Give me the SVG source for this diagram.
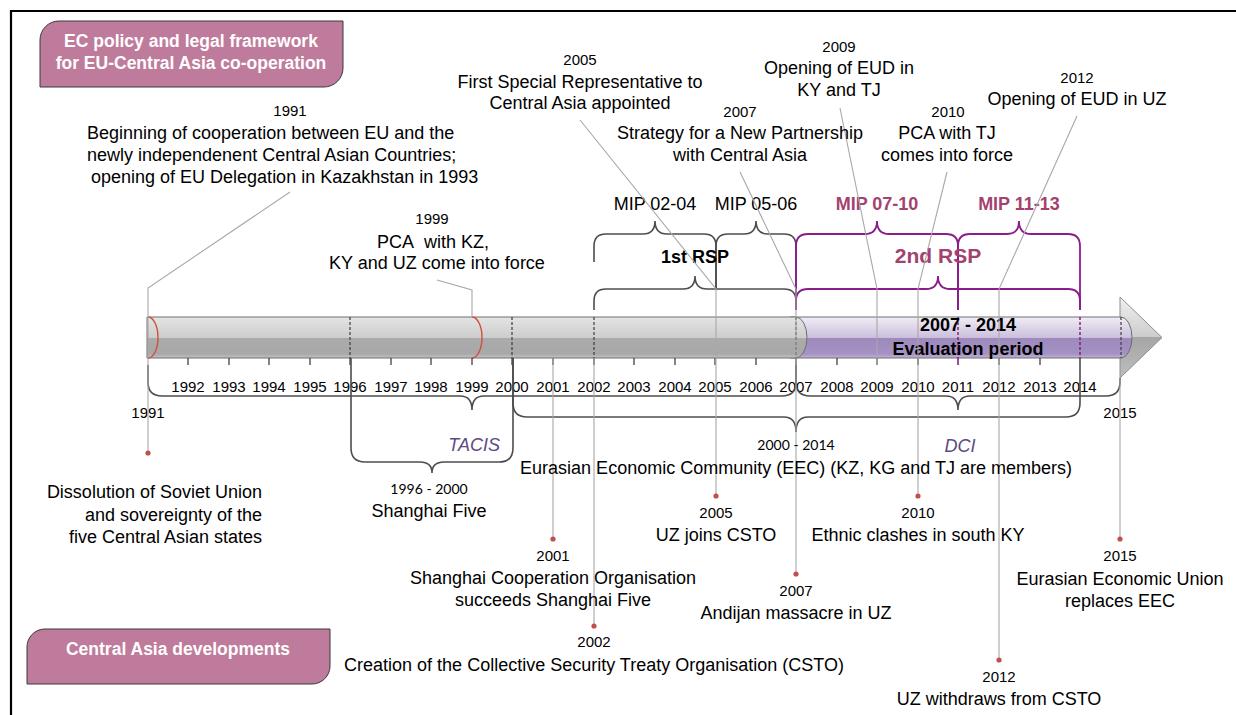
<svg xmlns="http://www.w3.org/2000/svg" width="1236" height="715" viewBox="0 0 1236 715">
<defs>
<linearGradient id="gGrey" x1="0" y1="0" x2="0" y2="1">
<stop offset="0" stop-color="#e4e4e4"/><stop offset="0.5" stop-color="#cdcdcd"/><stop offset="0.5" stop-color="#ababab"/><stop offset="0.9" stop-color="#a8a8a8"/><stop offset="1" stop-color="#c4c4c4"/>
</linearGradient>
<linearGradient id="gPurple" x1="0" y1="0" x2="0" y2="1">
<stop offset="0" stop-color="#f1edf6"/><stop offset="0.5" stop-color="#cbc0dc"/><stop offset="0.5" stop-color="#9d89bb"/><stop offset="0.9" stop-color="#a592c4"/><stop offset="1" stop-color="#c2b4d8"/>
</linearGradient>
<linearGradient id="gArrow" x1="0" y1="0" x2="0" y2="1">
<stop offset="0" stop-color="#f0f0f0"/><stop offset="0.5" stop-color="#cccccc"/><stop offset="0.5" stop-color="#a6a6a6"/><stop offset="1" stop-color="#bdbdbd"/>
</linearGradient>
</defs>
<style>
text{font-family:"Liberation Sans",Arial,sans-serif;fill:#000}
.ev{font-size:18px;text-anchor:middle}
.yr{font-size:15px;text-anchor:middle}
.cal{font-family:Lato,"Liberation Sans",sans-serif;font-size:14px;text-anchor:middle}
.hdr{font-size:17.5px;font-weight:bold;fill:#ffffff;text-anchor:middle}
.box{fill:#bf7b9b;stroke:#3a3a3a;stroke-width:1}
.brace{fill:none;stroke:#4d4d4d;stroke-width:1.6}
.pbrace{fill:none;stroke:#8b1c8b;stroke-width:1.8}
.conn{fill:none;stroke:#a8a8a8;stroke-width:1.1}
.dot{fill:#c0504d}
.dash{stroke:#3c3c3c;stroke-width:1.2;stroke-dasharray:3 2}
.pdash{stroke:#7a1a7a;stroke-width:1.4;stroke-dasharray:3 2}
.tick{stroke:#333;stroke-width:1.2}
.mip{font-size:18px;text-anchor:middle}
.pmip{font-size:18px;font-weight:bold;fill:#a3426f;text-anchor:middle}
.per{font-size:18px;font-style:italic;fill:#5c4a82}
</style>
<rect width="1236" height="715" fill="#ffffff"/>
<path d="M11,715 V11 H1236" fill="none" stroke="#000" stroke-width="2.2"/>

<g id="header-ec">
<path class="box" d="M40,87 V40 A19,19 0 0 1 59,21 H343 V68 A19,19 0 0 1 324,87 Z"/>
<text class="hdr" x="191" y="47">EC policy and legal framework</text>
<text class="hdr" x="191" y="69">for EU-Central Asia co-operation</text>
</g>
<g id="header-ca">
<path class="box" d="M27,684 V647 A18,18 0 0 1 45,629 H330 V666 A18,18 0 0 1 312,684 Z"/>
<text class="hdr" x="178" y="655">Central Asia developments</text>
</g>

<g id="timeline">
<polygon points="1120,297 1162,337.5 1120,378" fill="url(#gArrow)" stroke="#8c8c8c" stroke-width="1"/>
<path d="M790,317 H1121 A11,20.5 0 0 1 1121,358 H790 Z" fill="url(#gPurple)" stroke="#6e6e6e" stroke-width="1"/>
<path d="M147,317 H796 A11,20.5 0 0 1 796,358 H147 Z" fill="url(#gGrey)" stroke="#6e6e6e" stroke-width="1"/>
<path d="M148,317 A10,20.5 0 0 1 148,358" fill="none" stroke="#d0503c" stroke-width="1.4"/>
<path d="M472,317 A10,20.5 0 0 1 472,358" fill="none" stroke="#d0503c" stroke-width="1.4"/>
<line class="dash" x1="350" y1="317" x2="350" y2="358"/>
<line class="dash" x1="512" y1="317" x2="512" y2="358"/>
<line class="dash" x1="594" y1="317" x2="594" y2="358"/>
<line class="dash" x1="796" y1="317" x2="796" y2="358"/>
<line class="pdash" x1="958" y1="317" x2="958" y2="358"/>
<line class="pdash" x1="1080" y1="317" x2="1080" y2="358"/>
<line class="dash" x1="1121" y1="317" x2="1121" y2="358"/>
<text x="968" y="331" style="font-size:18px;font-weight:bold;text-anchor:middle">2007 - 2014</text>
<text x="968" y="355" style="font-size:18px;font-weight:bold;text-anchor:middle">Evaluation period</text>
<g class="tick">
<line x1="188" y1="358" x2="188" y2="365"/><line x1="229" y1="358" x2="229" y2="365"/><line x1="269" y1="358" x2="269" y2="365"/><line x1="310" y1="358" x2="310" y2="365"/><line x1="350" y1="358" x2="350" y2="365"/><line x1="391" y1="358" x2="391" y2="365"/><line x1="431" y1="358" x2="431" y2="365"/><line x1="472" y1="358" x2="472" y2="365"/><line x1="512" y1="358" x2="512" y2="365"/><line x1="553" y1="358" x2="553" y2="365"/><line x1="594" y1="358" x2="594" y2="365"/><line x1="634" y1="358" x2="634" y2="365"/><line x1="675" y1="358" x2="675" y2="365"/><line x1="715" y1="358" x2="715" y2="365"/><line x1="756" y1="358" x2="756" y2="365"/><line x1="796" y1="358" x2="796" y2="365"/><line x1="837" y1="358" x2="837" y2="365"/><line x1="877" y1="358" x2="877" y2="365"/><line x1="918" y1="358" x2="918" y2="365"/><line x1="999" y1="358" x2="999" y2="365"/><line x1="1040" y1="358" x2="1040" y2="365"/>
</g>
<line x1="958" y1="358" x2="958" y2="365" stroke="#8b1c8b" stroke-width="1.6"/>
<g class="yr">
<text x="188" y="392">1992</text><text x="229" y="392">1993</text><text x="269" y="392">1994</text><text x="310" y="392">1995</text><text x="350" y="392">1996</text><text x="391" y="392">1997</text><text x="431" y="392">1998</text><text x="472" y="392">1999</text><text x="512" y="392">2000</text><text x="553" y="392">2001</text><text x="594" y="392">2002</text><text x="634" y="392">2003</text><text x="675" y="392">2004</text><text x="715" y="392">2005</text><text x="756" y="392">2006</text><text x="796" y="392">2007</text><text x="837" y="392">2008</text><text x="877" y="392">2009</text><text x="918" y="392">2010</text><text x="958" y="392">2011</text><text x="999" y="392">2012</text><text x="1040" y="392">2013</text><text x="1080" y="392">2014</text>
<text x="148" y="418">1991</text><text x="1120" y="418">2015</text>
</g>
</g>

<g id="braces">
<path class="brace" d="M594,262 V246 Q594,234 606,234 H643 Q655,234 655,221 Q655,234 667,234 H704 Q716,234 716,246 V289"/>
<path class="brace" d="M716,289 V246 Q716,234 728,234 H744 Q756,234 756,221 Q756,234 768,234 H784 Q796,234 796,246 V289"/>
<path class="brace" d="M594,310 V301 Q594,289 606,289 H683 Q695,289 695,276 Q695,289 707,289 H784 Q796,289 796,301 V310"/>
<path class="pbrace" d="M796,310 V246 Q796,234 808,234 H865 Q877,234 877,221 Q877,234 889,234 H946 Q958,234 958,246 V310"/>
<path class="pbrace" d="M958,310 V246 Q958,234 970,234 H1007 Q1019,234 1019,221 Q1019,234 1031,234 H1068 Q1080,234 1080,246 V310"/>
<path class="pbrace" d="M796,310 V301 Q796,289 808,289 H926 Q938,289 938,276 Q938,289 950,289 H1068 Q1080,289 1080,301 V310"/>
<path class="brace" d="M148,365 V382 Q148,396 162,396 H460 Q472,396 472,410 Q472,396 484,396 H782 Q796,396 796,382 V365"/>
<path class="brace" d="M796,365 V382 Q796,396 810,396 H946 Q958,396 958,410 Q958,396 970,396 H1106 Q1120,396 1120,382 V378"/>
<path class="brace" d="M513,358 V403 Q513,417 527,417 H784 Q796,417 796,432 Q796,417 808,417 H1066 Q1080,417 1080,403 V358"/>
<path class="brace" d="M351,358 V448 Q351,462 365,462 H420 Q432,462 432,473 Q432,462 444,462 H499 Q513,462 513,448 V358"/>
<text class="mip" x="655" y="210">MIP 02-04</text>
<text class="mip" x="756" y="210">MIP 05-06</text>
<text class="pmip" x="877" y="210">MIP 07-10</text>
<text class="pmip" x="1019" y="210">MIP 11-13</text>
<text x="695" y="263" style="font-size:18px;font-weight:bold;text-anchor:middle">1st RSP</text>
<text x="938" y="263" style="font-size:21px;font-weight:bold;fill:#a3426f;text-anchor:middle">2nd RSP</text>
<text class="per" x="500" y="451" text-anchor="end">TACIS</text>
<text class="per" x="960" y="452" text-anchor="middle">DCI</text>
</g>

<g id="connectors">
<polyline class="conn" points="290,192 148,288 148,453"/>
<polyline class="conn" points="437,280 472,290 472,317"/>
<polyline class="conn" points="580,120 716,289 716,496"/>
<polyline class="conn" points="740,172 796,289 796,574"/>
<polyline class="conn" points="840,108 877,289 877,365"/>
<polyline class="conn" points="947,172 918,289 918,496"/>
<polyline class="conn" points="1077,116 999,289 999,660"/>
<line class="conn" x1="553" y1="358" x2="553" y2="539"/>
<line class="conn" x1="594" y1="358" x2="594" y2="626"/>
<line class="conn" x1="1120" y1="378" x2="1120" y2="539"/>
<circle class="dot" cx="148" cy="453" r="2.6"/>
<circle class="dot" cx="553" cy="539" r="2.6"/>
<circle class="dot" cx="594" cy="626" r="2.6"/>
<circle class="dot" cx="716" cy="496" r="2.6"/>
<circle class="dot" cx="796" cy="574" r="2.6"/>
<circle class="dot" cx="918" cy="496" r="2.6"/>
<circle class="dot" cx="999" cy="660" r="2.6"/>
<circle class="dot" cx="1120" cy="539" r="2.6"/>
</g>

<g id="ev-1991-top">
<text class="yr" x="290" y="116">1991</text>
<text class="ev" x="87" y="139" style="text-anchor:start">Beginning of cooperation between EU and the</text>
<text class="ev" x="87" y="161" style="text-anchor:start">newly independenent Central Asian Countries;</text>
<text class="ev" x="91" y="183" style="text-anchor:start">opening of EU Delegation in Kazakhstan in 1993</text>
</g>
<g id="ev-1999-top">
<text class="yr" x="432" y="224">1999</text>
<text class="ev" x="433" y="248">PCA&#160; with KZ,</text>
<text class="ev" x="437" y="269">KY and UZ come into force</text>
</g>
<g id="ev-2005-top">
<text class="yr" x="580" y="65">2005</text>
<text class="ev" x="580" y="88">First Special Representative to</text>
<text class="ev" x="580" y="109">Central Asia appointed</text>
</g>
<g id="ev-2007-top">
<text class="yr" x="740" y="117">2007</text>
<text class="ev" x="740" y="139">Strategy for a New Partnership</text>
<text class="ev" x="740" y="161">with Central Asia</text>
</g>
<g id="ev-2009-top">
<text class="yr" x="839" y="52">2009</text>
<text class="ev" x="839" y="74">Opening of EUD in</text>
<text class="ev" x="839" y="96">KY and TJ</text>
</g>
<g id="ev-2010-top">
<text class="yr" x="948" y="117">2010</text>
<text class="ev" x="947" y="139">PCA with TJ</text>
<text class="ev" x="947" y="161">comes into force</text>
</g>
<g id="ev-2012-top">
<text class="yr" x="1077" y="83">2012</text>
<text class="ev" x="1077" y="105">Opening of EUD in UZ</text>
</g>

<g id="ev-1991-bottom">
<text class="ev" x="262" y="498" style="text-anchor:end">Dissolution of Soviet Union</text>
<text class="ev" x="262" y="521" style="text-anchor:end">and sovereignty of the</text>
<text class="ev" x="262" y="543" style="text-anchor:end">five Central Asian states</text>
</g>
<g id="ev-1996">
<text class="cal" x="429" y="494">1996 - 2000</text>
<text class="ev" x="429" y="517">Shanghai Five</text>
</g>
<g id="ev-2001">
<text class="yr" x="553" y="561">2001</text>
<text class="ev" x="553" y="584">Shanghai Cooperation Organisation</text>
<text class="ev" x="553" y="606">succeeds Shanghai Five</text>
</g>
<g id="ev-2002">
<text class="yr" x="594" y="647">2002</text>
<text class="ev" x="594" y="671">Creation of the Collective Security Treaty Organisation (CSTO)</text>
</g>
<g id="ev-2000-2014">
<text class="cal" x="796" y="450">2000 - 2014</text>
<text class="ev" x="796" y="474">Eurasian Economic Community (EEC) (KZ, KG and TJ are members)</text>
</g>
<g id="ev-2005-bottom">
<text class="yr" x="716" y="518">2005</text>
<text class="ev" x="716" y="541">UZ joins CSTO</text>
</g>
<g id="ev-2007-bottom">
<text class="yr" x="796" y="596">2007</text>
<text class="ev" x="796" y="619">Andijan massacre in UZ</text>
</g>
<g id="ev-2010-bottom">
<text class="yr" x="918" y="518">2010</text>
<text class="ev" x="918" y="541">Ethnic clashes in south KY</text>
</g>
<g id="ev-2012-bottom">
<text class="yr" x="999" y="682">2012</text>
<text class="ev" x="999" y="705">UZ withdraws from CSTO</text>
</g>
<g id="ev-2015">
<text class="yr" x="1120" y="561">2015</text>
<text class="ev" x="1120" y="585">Eurasian Economic Union</text>
<text class="ev" x="1120" y="607">replaces EEC</text>
</g>
</svg>
